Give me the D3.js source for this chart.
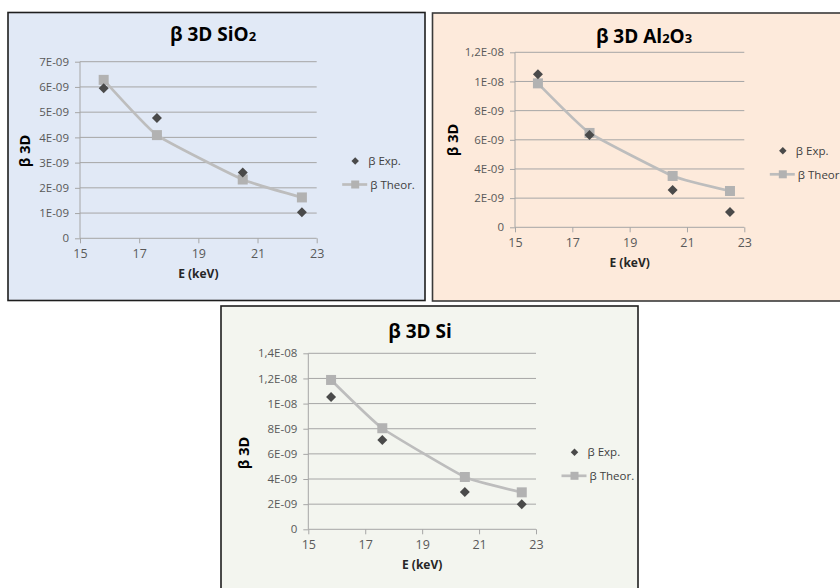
<!DOCTYPE html>
<html><head><meta charset="utf-8">
<script src="https://cdn.jsdelivr.net/npm/d3@7"></script>
<style>
html,body{margin:0;padding:0;background:#fff;}
svg{display:block;}
text{font-family:"Open Sans",sans-serif;}
</style></head>
<body>
<svg id="c" width="840" height="588"></svg>
<script>
// ---- data ----
const energies = [15.8, 17.6, 20.5, 22.5];
const xTicks = [15, 17, 19, 21, 23];

const sio2Exp    = [5.95e-9, 4.77e-9, 2.61e-9, 1.03e-9];
const sio2Theor  = [6.28e-9, 4.09e-9, 2.33e-9, 1.62e-9];
const sio2YTicks = [0, 1e-9, 2e-9, 3e-9, 4e-9, 5e-9, 6e-9, 7e-9];
const sio2YLabels = ["0","1E-09","2E-09","3E-09","4E-09","5E-09","6E-09","7E-09"];

const al2o3Exp    = [10.5e-9, 6.33e-9, 2.56e-9, 1.05e-9];
const al2o3Theor  = [9.87e-9, 6.47e-9, 3.52e-9, 2.49e-9];
const al2o3YTicks = [0, 2e-9, 4e-9, 6e-9, 8e-9, 10e-9, 12e-9];
const al2o3YLabels = ["0","2E-09","4E-09","6E-09","8E-09","1E-08","1,2E-08"];

const siExp    = [10.53e-9, 7.11e-9, 2.97e-9, 1.99e-9];
const siTheor  = [11.88e-9, 8.04e-9, 4.16e-9, 2.94e-9];
const siYTicks = [0, 2e-9, 4e-9, 6e-9, 8e-9, 10e-9, 12e-9, 14e-9];
const siYLabels = ["0","2E-09","4E-09","6E-09","8E-09","1E-08","1,2E-08","1,4E-08"];

const legendLabels = ["β Exp.", "β Theor."];
const yTitle = "β 3D";
const xTitle = "E (keV)";

// ---- layout ----
const panels = [
  {title:["β 3D SiO","2",""], exp:sio2Exp, theor:sio2Theor, yTicks:sio2YTicks, yLabels:sio2YLabels,
   box:[8,12.5,417,288], bg:"#e1e9f6", border:"#1e1e1e",
   plot:[80,61.7,316.7,238.3], titleX:213, titleY:41, yTitleX:30, yTitleY:151},
  {title:["β 3D Al","2","O","3"], exp:al2o3Exp, theor:al2o3Theor, yTicks:al2o3YTicks, yLabels:al2o3YLabels,
   box:[432.5,13,420,288], bg:"#fdeadb", border:"#3a3a3a",
   plot:[515,52.3,744.3,227.3], titleX:644, titleY:43, yTitleX:458, yTitleY:140},
  {title:["β 3D Si"], exp:siExp, theor:siTheor, yTicks:siYTicks, yLabels:siYLabels,
   box:[221,306,417,290], bg:"#f3f5ef", border:"#1e1e1e",
   plot:[308.3,353.3,536,529.3], titleX:420, titleY:338, yTitleX:249, yTitleY:453}
];

const svg = d3.select("#c");

panels.forEach(p => {
  const g = svg.append("g");
  g.append("rect").attr("x",p.box[0]).attr("y",p.box[1]).attr("width",p.box[2]).attr("height",p.box[3])
    .attr("fill",p.bg).attr("stroke",p.border).attr("stroke-width",1.6);

  const [x0,y0,x1,y1] = p.plot;
  const x = d3.scaleLinear().domain([15,23]).range([x0,x1]);
  const y = d3.scaleLinear().domain([0, p.yTicks[p.yTicks.length-1]]).range([y1,y0]);

  // gridlines
  g.append("g").selectAll("line").data(p.yTicks.slice(1)).join("line")
    .attr("x1",x0).attr("x2",x1).attr("y1",d=>y(d)).attr("y2",d=>y(d))
    .attr("stroke","#a6a6a6").attr("stroke-width",1);

  // y axis
  const ya = g.append("g").attr("transform",`translate(${x0},0)`)
    .call(d3.axisLeft(y).tickValues(p.yTicks).tickFormat((d,i)=>p.yLabels[i]).tickSize(5).tickPadding(6));
  ya.select(".domain").attr("stroke","#a6a6a6").attr("d",`M0,${y1}V${y0}`);
  ya.selectAll(".tick line").attr("stroke","#a6a6a6");
  ya.selectAll(".tick text").attr("fill","#595959").style("font-size","11.5px").style("font-family","'Open Sans',sans-serif");

  // x axis
  const xa = g.append("g").attr("transform",`translate(0,${y1})`)
    .call(d3.axisBottom(x).tickValues(xTicks).tickFormat(d3.format("d")).tickSize(5).tickPadding(6));
  xa.select(".domain").attr("stroke","#a6a6a6").attr("d",`M${x0},0H${x1}`);
  xa.selectAll(".tick line").attr("stroke","#a6a6a6");
  xa.selectAll(".tick text").attr("fill","#595959").style("font-size","12.5px").style("font-family","'Open Sans',sans-serif");

  // titles
  const t = g.append("text").attr("x",p.titleX).attr("y",p.titleY).attr("text-anchor","middle")
    .attr("font-weight","bold").attr("font-size","19px").attr("fill","#000");
  p.title.forEach((s,i)=>{
    if(!s) return;
    t.append("tspan").text(s).attr("font-size", i%2===1 ? "13px" : "19px");
  });

  g.append("text").attr("transform",`translate(${p.yTitleX},${p.yTitleY}) rotate(-90)`)
    .attr("text-anchor","middle").attr("font-weight","bold").attr("font-size","14.5px").attr("fill","#000").text(yTitle);
  g.append("text").attr("x",(x0+x1)/2).attr("y",y1+40).attr("text-anchor","middle")
    .attr("font-weight","bold").attr("font-size","12px").attr("fill","#262626").text(xTitle);

  // theor line
  const pts = energies.map((e,i)=>[e,p.theor[i]]);
  g.append("path").datum(pts)
    .attr("d", d3.line().x(d=>x(d[0])).y(d=>y(d[1])).curve(d3.curveCardinal.tension(0.6)))
    .attr("fill","none").attr("stroke","#bdbdbd").attr("stroke-width",2.7);
  g.append("g").selectAll("rect").data(pts).join("rect")
    .attr("x",d=>x(d[0])-5).attr("y",d=>y(d[1])-5).attr("width",10).attr("height",10)
    .attr("fill","#b2b2b2");

  // exp diamonds
  const diamond = d3.symbol().type(d3.symbolSquare).size(50);
  g.append("g").selectAll("path").data(energies.map((e,i)=>[e,p.exp[i]])).join("path")
    .attr("d",diamond())
    .attr("transform",d=>`translate(${x(d[0])},${y(d[1])}) rotate(45)`)
    .attr("fill","#4a4a4a");

  // legend
  const lx = x1 + 38.5, ly = (y0+y1)/2 + 11;
  g.append("path").attr("d",d3.symbol().type(d3.symbolSquare).size(28)())
    .attr("transform",`translate(${lx},${ly}) rotate(45)`).attr("fill","#4a4a4a");
  g.append("text").attr("x",lx+13).attr("y",ly+4).attr("font-size","11.5px").attr("fill","#404040").text(legendLabels[0]);
  g.append("line").attr("x1",lx-13).attr("x2",lx+12).attr("y1",ly+23.5).attr("y2",ly+23.5)
    .attr("stroke","#bdbdbd").attr("stroke-width",2.7);
  g.append("rect").attr("x",lx-4).attr("y",ly+19.5).attr("width",8).attr("height",8).attr("fill","#b2b2b2");
  g.append("text").attr("x",lx+15).attr("y",ly+28).attr("font-size","11.5px").attr("fill","#404040").text(legendLabels[1]);
});
</script>
</body></html>
